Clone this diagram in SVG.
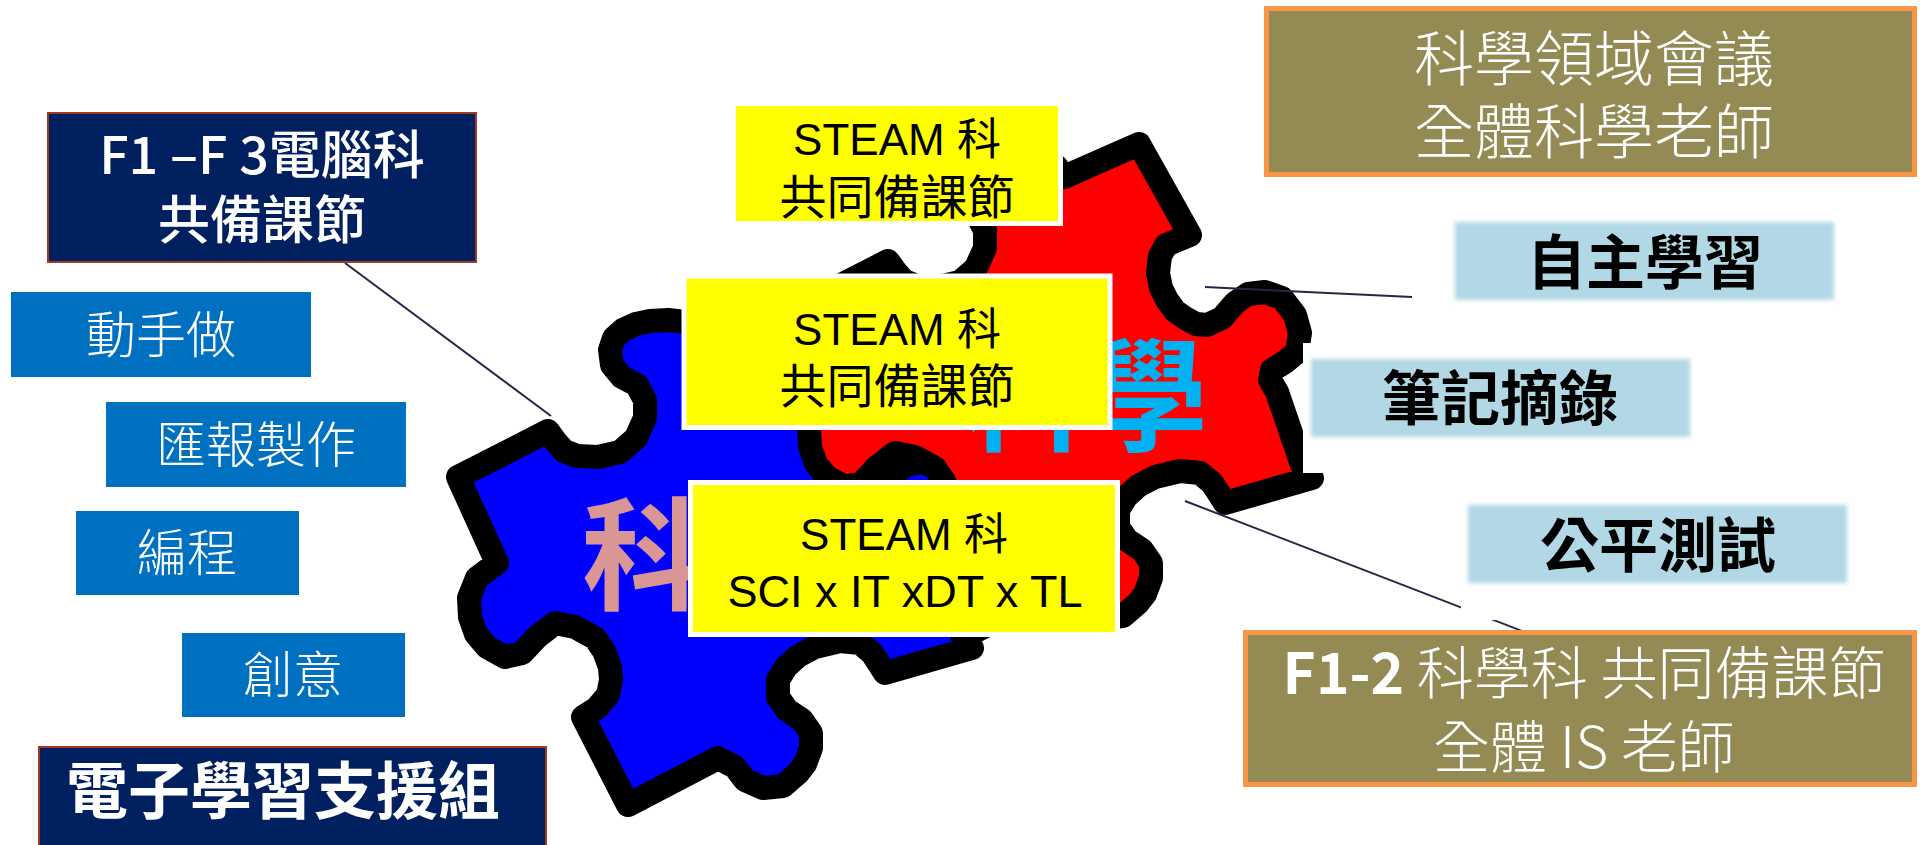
<svg xmlns="http://www.w3.org/2000/svg" width="1921" height="845" viewBox="0 0 1921 845">
<defs>
<style>
text { font-family: "Noto Sans CJK TC", "Noto Sans CJK SC", sans-serif; }
.navy rect { fill: #002060; stroke: #a0391f; stroke-width: 2; }
.navy text { fill: #fff; font-weight: 700; text-anchor: middle; }
.navy text.mid { font-weight: 500; }
.tag rect { fill: #0070c0; }
.tag text { fill: #fff; font-size: 50px; font-weight: 300; text-anchor: middle; }
.steam rect { fill: #ffff00; stroke: #fff; stroke-width: 5; }
.steam text { fill: #000; text-anchor: middle; font-family: "Liberation Sans", "Noto Sans CJK TC", sans-serif; }
.olive rect { fill: #948a54; stroke: #f79646; stroke-width: 5; }
.olive text { fill: #fff; font-weight: 300; text-anchor: middle; }
.skill .panel { fill: #fff; }
.skill .chip { fill: #b1d8e4; filter: url(#soft); }
.skill text { fill: #000; font-size: 59px; font-weight: 700; text-anchor: middle; }
.piece { stroke: #000; stroke-width: 24; stroke-linejoin: round; }
.link { stroke: #2a2348; stroke-width: 2; fill: none; }
.big { font-size: 122px; font-weight: 700; }
</style>
<filter id="soft" x="-5%" y="-10%" width="110%" height="120%">
<feGaussianBlur stdDeviation="2"/>
</filter>
<!-- one jigsaw piece outline; the second piece reuses it shifted -->
<path id="jig" d="M458,477 L548,431 L556,442 L564,451 L577,456 L598,457 L620,452 L636,438 L645,418 L645,400 L637,385 L622,377 L612,365 L610,350 L614,338 L623,330 L636,324 L650,321 L668,320 L685,322 L703,327 L716,336 L724,347 L799,314 L850,405 L838,410 L826,415 L820,426 L818,443 L821,458 L827,470 L835,481 L845,488 L856,494 L867,495 L882,488 L895,473 L908,464 L925,462 L942,468 L955,485 L960,503 L957,522 L945,532 L932,540 L930,550 L937,562 L962,635 L972,648 L885,673 L878,662 L872,653 L860,643 L840,641 L815,647 L798,656 L786,667 L778,680 L778,697 L787,710 L802,720 L811,733 L811,748 L805,764 L798,773 L783,786 L763,788 L745,780 L735,767 L718,758 L628,805 L583,717 L597,708 L608,695 L611,680 L610,667 L604,651 L595,638 L575,627 L555,623 L537,637 L522,653 L505,657 L487,647 L476,634 L470,617 L469,598 L477,578 L497,563 Z"/>
</defs>

<rect width="1921" height="845" fill="#fff"/>

<!-- puzzle pieces -->
<g id="puzzle-blue">
<use href="#jig" class="piece" fill="#0000ff"/>
<text class="big" x="582" y="600" fill="#d99694">科</text>
</g>
<g id="puzzle-red">
<use href="#jig" class="piece" fill="#ff0000" transform="translate(340,-170)"/>
<text class="big" x="964" y="441" fill="#00b0f0">科學</text>
</g>

<!-- connectors -->
<g id="connectors">
<line class="link" x1="345" y1="263" x2="551" y2="416"/>
<line class="link" x1="1205" y1="287" x2="1412" y2="297"/>
<line class="link" x1="1185" y1="501" x2="1530" y2="634"/>
</g>

<!-- computer subject panel -->
<g id="it-prep" class="navy">
<rect x="48" y="113" width="428" height="149"/>
<text class="mid" x="262" y="174" font-size="52">F1 –F 3電腦科</text>
<text class="mid" x="262" y="239" font-size="52">共備課節</text>
</g>

<g id="hands-on" class="tag">
<rect x="11" y="292" width="300" height="85"/>
<text x="161" y="353">動手做</text>
</g>
<g id="presentation" class="tag">
<rect x="106" y="402" width="300" height="85"/>
<text x="256" y="463">匯報製作</text>
</g>
<g id="coding" class="tag">
<rect x="76" y="511" width="223" height="84"/>
<text x="187" y="571">編程</text>
</g>
<g id="creativity" class="tag">
<rect x="182" y="633" width="223" height="84"/>
<text x="293" y="693">創意</text>
</g>

<g id="elearning" class="navy">
<rect x="39" y="747" width="507" height="110"/>
<text x="283" y="814" font-size="62">電子學習支援組</text>
</g>

<!-- STEAM panels -->
<g id="steam-1" class="steam">
<rect x="733.5" y="103.5" width="327" height="120"/>
<text x="897" y="155" font-size="44">STEAM 科</text>
<text x="897" y="214" font-size="47">共同備課節</text>
</g>
<g id="steam-2" class="steam">
<rect x="684" y="276" width="426" height="151.5"/>
<text x="897" y="345" font-size="44">STEAM 科</text>
<text x="897" y="403" font-size="47">共同備課節</text>
</g>
<g id="steam-3" class="steam">
<rect x="690.5" y="482.5" width="427" height="152"/>
<text x="904" y="550" font-size="44">STEAM 科</text>
<text x="905" y="607" font-size="45">SCI x IT xDT x TL</text>
</g>

<!-- science panels -->
<g id="science-meeting" class="olive">
<rect x="1266.5" y="8.5" width="648" height="166"/>
<text x="1594" y="81" font-size="60">科學領域會議</text>
<text x="1594" y="154" font-size="60">全體科學老師</text>
</g>

<g id="self-learning" class="skill">
<rect class="chip" x="1455" y="222" width="379" height="78"/>
<text x="1645" y="284">自主學習</text>
</g>
<g id="note-taking" class="skill">
<rect class="panel" x="1303" y="343" width="400" height="130"/>
<rect class="chip" x="1311" y="359" width="379" height="78"/>
<text x="1500" y="420">筆記摘錄</text>
</g>
<g id="fair-test" class="skill">
<rect class="panel" x="1461" y="490" width="395" height="130"/>
<rect class="chip" x="1468" y="505" width="379" height="78"/>
<text x="1658" y="567">公平測試</text>
</g>

<g id="science-prep" class="olive">
<rect x="1245.5" y="632.5" width="669" height="152"/>
<text x="1584" y="694" font-size="57"><tspan font-weight="700">F1-2</tspan> 科學科 共同備課節</text>
<text x="1584" y="768" font-size="57">全體 IS 老師</text>
</g>
</svg>
